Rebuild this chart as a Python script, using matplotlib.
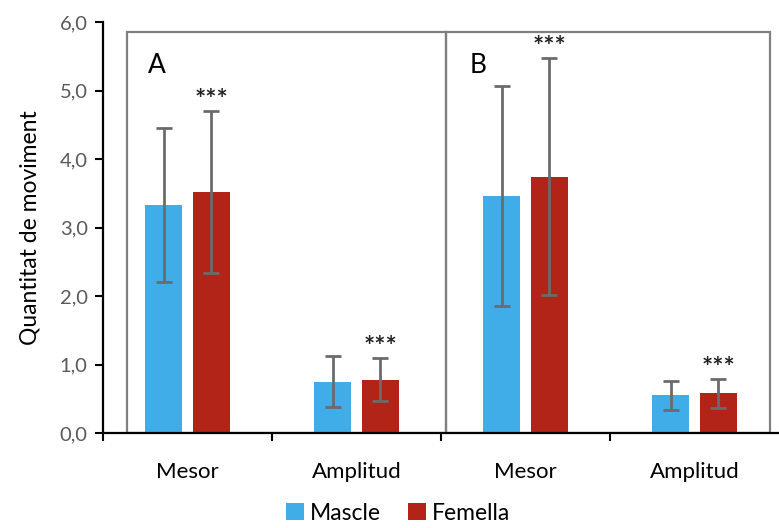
import numpy as np
import matplotlib
matplotlib.use("Agg")
import matplotlib.pyplot as plt
from matplotlib.patches import Rectangle
from matplotlib.ticker import FuncFormatter

plt.rcParams['font.family'] = ['Lato', 'DejaVu Sans']

categories = ['Mesor', 'Amplitud', 'Mesor', 'Amplitud']
panels = ['A', 'B']
mascle = [3.33, 0.75, 3.46, 0.55]
mascle_err = [1.12, 0.37, 1.60, 0.21]
femella = [3.52, 0.78, 3.74, 0.58]
femella_err = [1.18, 0.31, 1.73, 0.21]
signif = ['***', '***', '***', '***']

blue = '#41ADE8'
red = '#B22418'
grey_err = '#6b6b6b'

fig = plt.figure(figsize=(7.79, 5.28), dpi=100)
ax = fig.add_axes([103 / 779, 95 / 528, 676 / 779, 411 / 528])

x = np.arange(len(categories))
w = 0.22
off = 0.142
ax.bar(x - off, mascle, w, color=blue, label='Mascle', zorder=2)
ax.bar(x + off, femella, w, color=red, label='Femella', zorder=2)
ax.errorbar(x - off, mascle, yerr=mascle_err, fmt='none', ecolor=grey_err,
            elinewidth=2, capsize=6, capthick=2, zorder=3)
ax.errorbar(x + off, femella, yerr=femella_err, fmt='none', ecolor=grey_err,
            elinewidth=2, capsize=6, capthick=2, zorder=3)

for xi, v, e, s in zip(x, femella, femella_err, signif):
    ax.text(xi + off, v + e + 0.16, s, ha='center', va='center', fontsize=19,
            fontweight='bold', color='#222222')

# panel boxes
box_kw = dict(fill=False, edgecolor='#808080', linewidth=1.6, zorder=1)
ax.add_patch(Rectangle((-0.358, 0), 1.888, 5.86, **box_kw))
ax.add_patch(Rectangle((1.53, 0), 1.917, 5.86, **box_kw))
ax.text(-0.18, 5.36, panels[0], fontsize=19, ha='center', va='center')
ax.text(1.72, 5.36, panels[1], fontsize=19, ha='center', va='center')

ax.set_xlim(-0.5, 3.5)
ax.set_ylim(0, 6)
ax.set_yticks(np.arange(0, 6.1, 1))
ax.yaxis.set_major_formatter(FuncFormatter(lambda v, p: f'{v:.1f}'.replace('.', ',')))
ax.tick_params(axis='y', labelsize=14.5, labelcolor='#595959', length=6, width=1.5,
               direction='out', pad=5)
ax.set_xticks([-0.5, 0.5, 1.5, 2.5])
ax.set_xticklabels([])
ax.set_xticks(x, minor=True)
ax.set_xticklabels(categories, minor=True, fontsize=16)
ax.tick_params(axis='x', which='major', length=6, width=1.5, direction='out')
ax.tick_params(axis='x', which='minor', length=0, pad=21)

for sp in ['top', 'right']:
    ax.spines[sp].set_visible(False)
for sp in ['left', 'bottom']:
    ax.spines[sp].set_linewidth(1.6)
    ax.spines[sp].set_color('black')

ax.set_ylabel('Quantitat de moviment', fontsize=16.5, labelpad=14)

fig.legend(loc='center', bbox_to_anchor=(398 / 779, 15 / 528), ncol=2, frameon=False,
           fontsize=16.5, handlelength=0.8, handleheight=0.8, handletextpad=0.25,
           columnspacing=1.2, borderpad=0.1)

fig.savefig('out.png', dpi=100)
